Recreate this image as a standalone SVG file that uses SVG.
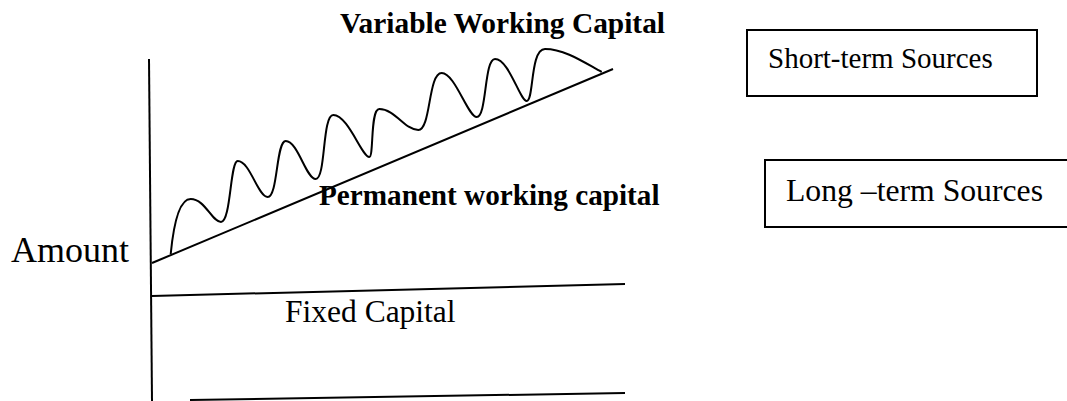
<svg xmlns="http://www.w3.org/2000/svg" width="1067" height="401" viewBox="0 0 1067 401">
<style>
.ln{stroke:#000;stroke-width:2;fill:none}
.box{stroke:#000;stroke-width:2;fill:#fff}
.t{font-family:"Liberation Serif","Times New Roman",serif;fill:#000}
.b{font-weight:bold}
</style>
<rect width="1067" height="401" fill="#fff"/>
<g id="connectors">
<path class="ln" d="M149,59 L152,401"/>
<path class="ln" d="M152,263 L613,69"/>
<path class="ln" d="M152,296 L625,284"/>
<path class="ln" d="M190,400 L625,393"/>
<path class="ln" d="M170.7,254 C174,220 180,199 190.7,199 C205,199 212,222 221,222 C231,222 230,161 237.7,161 C250,161 258,197 267.7,197 C278,197 276,141 285.7,141 C298,141 306,179 315.7,179 C326,179 322,115 333.3,115 C348,115 362,157 369.3,157 C374,157 370,109 379.3,109 C395,109 405,130 418.3,130 C431,130 428,73 441.7,73 C455,73 468,117 476.7,117 C487,117 484,59 495,59 C509,59 520,101 526.7,101 C534,101 530,49 545,49 C565,49 585,63 601.7,72"/>
</g>
<g id="variable-label"><text class="t b" x="340" y="33" font-size="29.4">Variable Working Capital</text></g>
<g id="permanent-label"><text class="t b" x="319" y="205" font-size="29.2">Permanent working capital</text></g>
<g id="amount-label"><text class="t" x="11" y="262" font-size="36">Amount</text></g>
<g id="fixed-label"><text class="t" x="285" y="322" font-size="31.5">Fixed Capital</text></g>
<g id="short-term">
<rect class="box" x="747" y="30" width="290" height="66"/>
<text class="t" x="768" y="68" font-size="29">Short-term Sources</text>
</g>
<g id="long-term">
<rect class="box" x="765" y="160" width="310" height="67"/>
<text class="t" x="786" y="201" font-size="31.7">Long –term Sources</text>
</g>
</svg>
